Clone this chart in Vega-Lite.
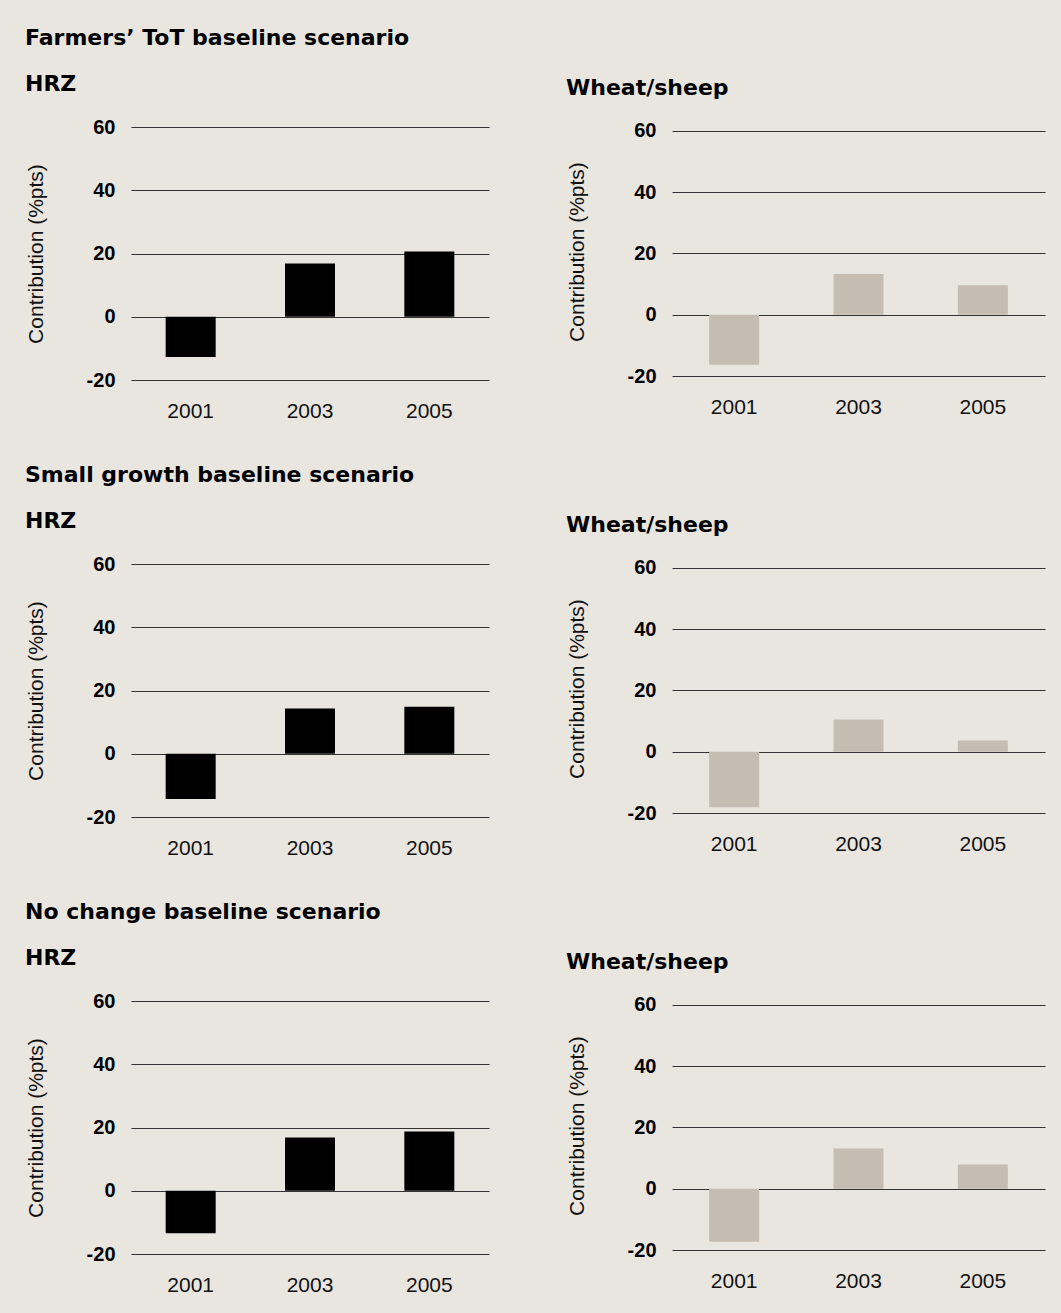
{
  "$schema": "https://vega.github.io/schema/vega-lite/v6.json",
  "background": "#E9E6E0",
  "padding": {"left": 25, "top": 27, "right": 16, "bottom": 20},
  "datasets": {
    "contrib": [
      {"scenario": "Farmers", "region": "HRZ", "year": "2001", "value": -12.7},
      {"scenario": "Farmers", "region": "HRZ", "year": "2003", "value": 16.8},
      {"scenario": "Farmers", "region": "HRZ", "year": "2005", "value": 20.6},
      {"scenario": "Farmers", "region": "Wheat/sheep", "year": "2001", "value": -16.3},
      {"scenario": "Farmers", "region": "Wheat/sheep", "year": "2003", "value": 13.3},
      {"scenario": "Farmers", "region": "Wheat/sheep", "year": "2005", "value": 9.6},
      {"scenario": "Small", "region": "HRZ", "year": "2001", "value": -14.3},
      {"scenario": "Small", "region": "HRZ", "year": "2003", "value": 14.3},
      {"scenario": "Small", "region": "HRZ", "year": "2005", "value": 14.9},
      {"scenario": "Small", "region": "Wheat/sheep", "year": "2001", "value": -18.1},
      {"scenario": "Small", "region": "Wheat/sheep", "year": "2003", "value": 10.5},
      {"scenario": "Small", "region": "Wheat/sheep", "year": "2005", "value": 3.7},
      {"scenario": "NoChange", "region": "HRZ", "year": "2001", "value": -13.4},
      {"scenario": "NoChange", "region": "HRZ", "year": "2003", "value": 16.8},
      {"scenario": "NoChange", "region": "HRZ", "year": "2005", "value": 18.7},
      {"scenario": "NoChange", "region": "Wheat/sheep", "year": "2001", "value": -17.3},
      {"scenario": "NoChange", "region": "Wheat/sheep", "year": "2003", "value": 13.1},
      {"scenario": "NoChange", "region": "Wheat/sheep", "year": "2005", "value": 7.9}
    ]
  },
  "data": {"name": "contrib"},
  "spacing": 43,
  "vconcat": [
    {
      "title": {"text": "Farmers’ ToT baseline scenario"},
      "spacing": 77,
      "hconcat": [
        {
          "width": 358, "height": 253,
          "title": {"text": "HRZ", "fontSize": 22, "offset": 21},
          "transform": [{"filter": "datum.scenario === 'Farmers' && datum.region === 'HRZ'"}],
          "mark": {"type": "bar", "size": 50, "color": "#000000"},
          "encoding": {
            "x": {"field": "year", "type": "ordinal", "scale": {"paddingInner": 0, "paddingOuter": 0}, "axis": {"title": null}},
            "y": {"field": "value", "type": "quantitative", "scale": {"domain": [-20, 60], "nice": false, "zero": false}, "axis": {"title": "Contribution (%pts)", "values": [-20, 0, 20, 40, 60], "labelExpr": "'' + datum.value"}}
          }
        },
        {
          "width": 373, "height": 249,
          "title": {"text": "Wheat/sheep", "fontSize": 22, "offset": 21},
          "transform": [{"filter": "datum.scenario === 'Farmers' && datum.region === 'Wheat/sheep'"}],
          "mark": {"type": "bar", "size": 50, "color": "#C5BDB1"},
          "encoding": {
            "x": {"field": "year", "type": "ordinal", "scale": {"paddingInner": 0, "paddingOuter": 0}, "axis": {"title": null}},
            "y": {"field": "value", "type": "quantitative", "scale": {"domain": [-20, 61.3], "nice": false, "zero": false}, "axis": {"title": "Contribution (%pts)", "values": [-20, 0, 20, 40, 60], "labelExpr": "'' + datum.value"}}
          }
        }
      ]
    },
    {
      "title": {"text": "Small growth baseline scenario"},
      "spacing": 77,
      "hconcat": [
        {
          "width": 358, "height": 253,
          "title": {"text": "HRZ", "fontSize": 22, "offset": 21},
          "transform": [{"filter": "datum.scenario === 'Small' && datum.region === 'HRZ'"}],
          "mark": {"type": "bar", "size": 50, "color": "#000000"},
          "encoding": {
            "x": {"field": "year", "type": "ordinal", "scale": {"paddingInner": 0, "paddingOuter": 0}, "axis": {"title": null}},
            "y": {"field": "value", "type": "quantitative", "scale": {"domain": [-20, 60], "nice": false, "zero": false}, "axis": {"title": "Contribution (%pts)", "values": [-20, 0, 20, 40, 60], "labelExpr": "'' + datum.value"}}
          }
        },
        {
          "width": 373, "height": 249,
          "title": {"text": "Wheat/sheep", "fontSize": 22, "offset": 21},
          "transform": [{"filter": "datum.scenario === 'Small' && datum.region === 'Wheat/sheep'"}],
          "mark": {"type": "bar", "size": 50, "color": "#C5BDB1"},
          "encoding": {
            "x": {"field": "year", "type": "ordinal", "scale": {"paddingInner": 0, "paddingOuter": 0}, "axis": {"title": null}},
            "y": {"field": "value", "type": "quantitative", "scale": {"domain": [-20, 61.3], "nice": false, "zero": false}, "axis": {"title": "Contribution (%pts)", "values": [-20, 0, 20, 40, 60], "labelExpr": "'' + datum.value"}}
          }
        }
      ]
    },
    {
      "title": {"text": "No change baseline scenario"},
      "spacing": 77,
      "hconcat": [
        {
          "width": 358, "height": 253,
          "title": {"text": "HRZ", "fontSize": 22, "offset": 21},
          "transform": [{"filter": "datum.scenario === 'NoChange' && datum.region === 'HRZ'"}],
          "mark": {"type": "bar", "size": 50, "color": "#000000"},
          "encoding": {
            "x": {"field": "year", "type": "ordinal", "scale": {"paddingInner": 0, "paddingOuter": 0}, "axis": {"title": null}},
            "y": {"field": "value", "type": "quantitative", "scale": {"domain": [-20, 60], "nice": false, "zero": false}, "axis": {"title": "Contribution (%pts)", "values": [-20, 0, 20, 40, 60], "labelExpr": "'' + datum.value"}}
          }
        },
        {
          "width": 373, "height": 249,
          "title": {"text": "Wheat/sheep", "fontSize": 22, "offset": 21},
          "transform": [{"filter": "datum.scenario === 'NoChange' && datum.region === 'Wheat/sheep'"}],
          "mark": {"type": "bar", "size": 50, "color": "#C5BDB1"},
          "encoding": {
            "x": {"field": "year", "type": "ordinal", "scale": {"paddingInner": 0, "paddingOuter": 0}, "axis": {"title": null}},
            "y": {"field": "value", "type": "quantitative", "scale": {"domain": [-20, 61.3], "nice": false, "zero": false}, "axis": {"title": "Contribution (%pts)", "values": [-20, 0, 20, 40, 60], "labelExpr": "'' + datum.value"}}
          }
        }
      ]
    }
  ],
  "config": {
    "view": {"stroke": null},
    "font": "Liberation Sans",
    "title": {
      "anchor": "start",
      "font": "DejaVu Sans",
      "fontSize": 22,
      "fontWeight": "bold",
      "color": "#000000",
      "baseline": "alphabetic",
      "offset": 23
    },
    "axisY": {
      "grid": true,
      "gridColor": "#333333",
      "gridOpacity": 1,
      "gridWidth": 1,
      "domain": false,
      "ticks": false,
      "labelFont": "Liberation Sans",
      "labelFontSize": 20,
      "labelFontWeight": "bold",
      "labelColor": "#000000",
      "labelPadding": 16,
      "minExtent": 44,
      "maxExtent": 44,
      "titleFont": "Liberation Sans",
      "titleFontSize": 21,
      "titleFontWeight": "normal",
      "titleColor": "#111111",
      "titlePadding": 41
    },
    "axisX": {
      "grid": false,
      "domain": false,
      "ticks": false,
      "labelAngle": 0,
      "labelFont": "Liberation Sans",
      "labelFontSize": 21,
      "labelFontWeight": "normal",
      "labelColor": "#111111",
      "labelPadding": 20
    }
  }
}
